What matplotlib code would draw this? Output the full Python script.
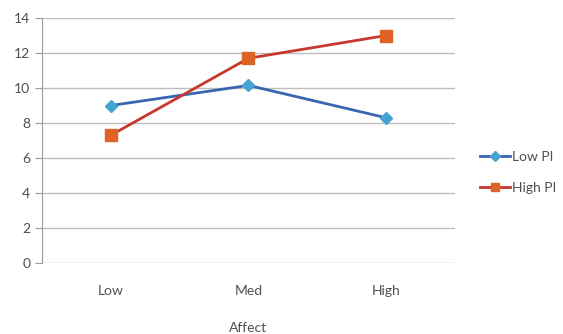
import matplotlib
matplotlib.use('Agg')
import matplotlib.pyplot as plt

# data
categories = ['Low', 'Med', 'High']
low_pi = [9.0, 10.15, 8.3]
high_pi = [7.3, 11.7, 13.0]
y_ticks = [0, 2, 4, 6, 8, 10, 12, 14]

plt.rcParams['font.family'] = ['Lato', 'DejaVu Sans']

fig = plt.figure(figsize=(5.63, 3.34), dpi=100)
ax = fig.add_axes([0.0746, 0.2126, 0.7334, 0.7334])

x = list(range(len(categories)))
ax.plot(x, low_pi, color='#3a66b0', lw=2, marker='D', ms=6,
        mfc='#45a3d3', mec='#45a3d3', label='Low PI')
ax.plot(x, high_pi, color='#c8372d', lw=2, marker='s', ms=8,
        mfc='#dd6327', mec='#dd6327', label='High PI')

ax.set_xlim(-0.5, 2.5)
ax.set_ylim(0, 14)
ax.set_yticks(y_ticks)
ax.set_xticks(x)
ax.set_xticklabels(categories)
ax.yaxis.grid(True, color='#bdbdbd', lw=1)
ax.set_axisbelow(True)

for s in ['top', 'right', 'bottom']:
    ax.spines[s].set_visible(False)
ax.spines['left'].set_color('#9a9a9a')
ax.tick_params(axis='y', colors='#9a9a9a', labelcolor='#505050',
               labelsize=10, length=5, direction='out')
ax.tick_params(axis='x', length=0, labelcolor='#505050', labelsize=10, pad=16)

ax.set_xlabel('Affect', color='#505050', fontsize=10, labelpad=18)

ax.legend(loc='center left', bbox_to_anchor=(1.03, 0.37), frameon=False,
          fontsize=10, labelcolor='#505050', handlelength=2.2, labelspacing=1.35,
          handletextpad=0.1, markerscale=0.8)

fig.savefig('out.png', dpi=100)
